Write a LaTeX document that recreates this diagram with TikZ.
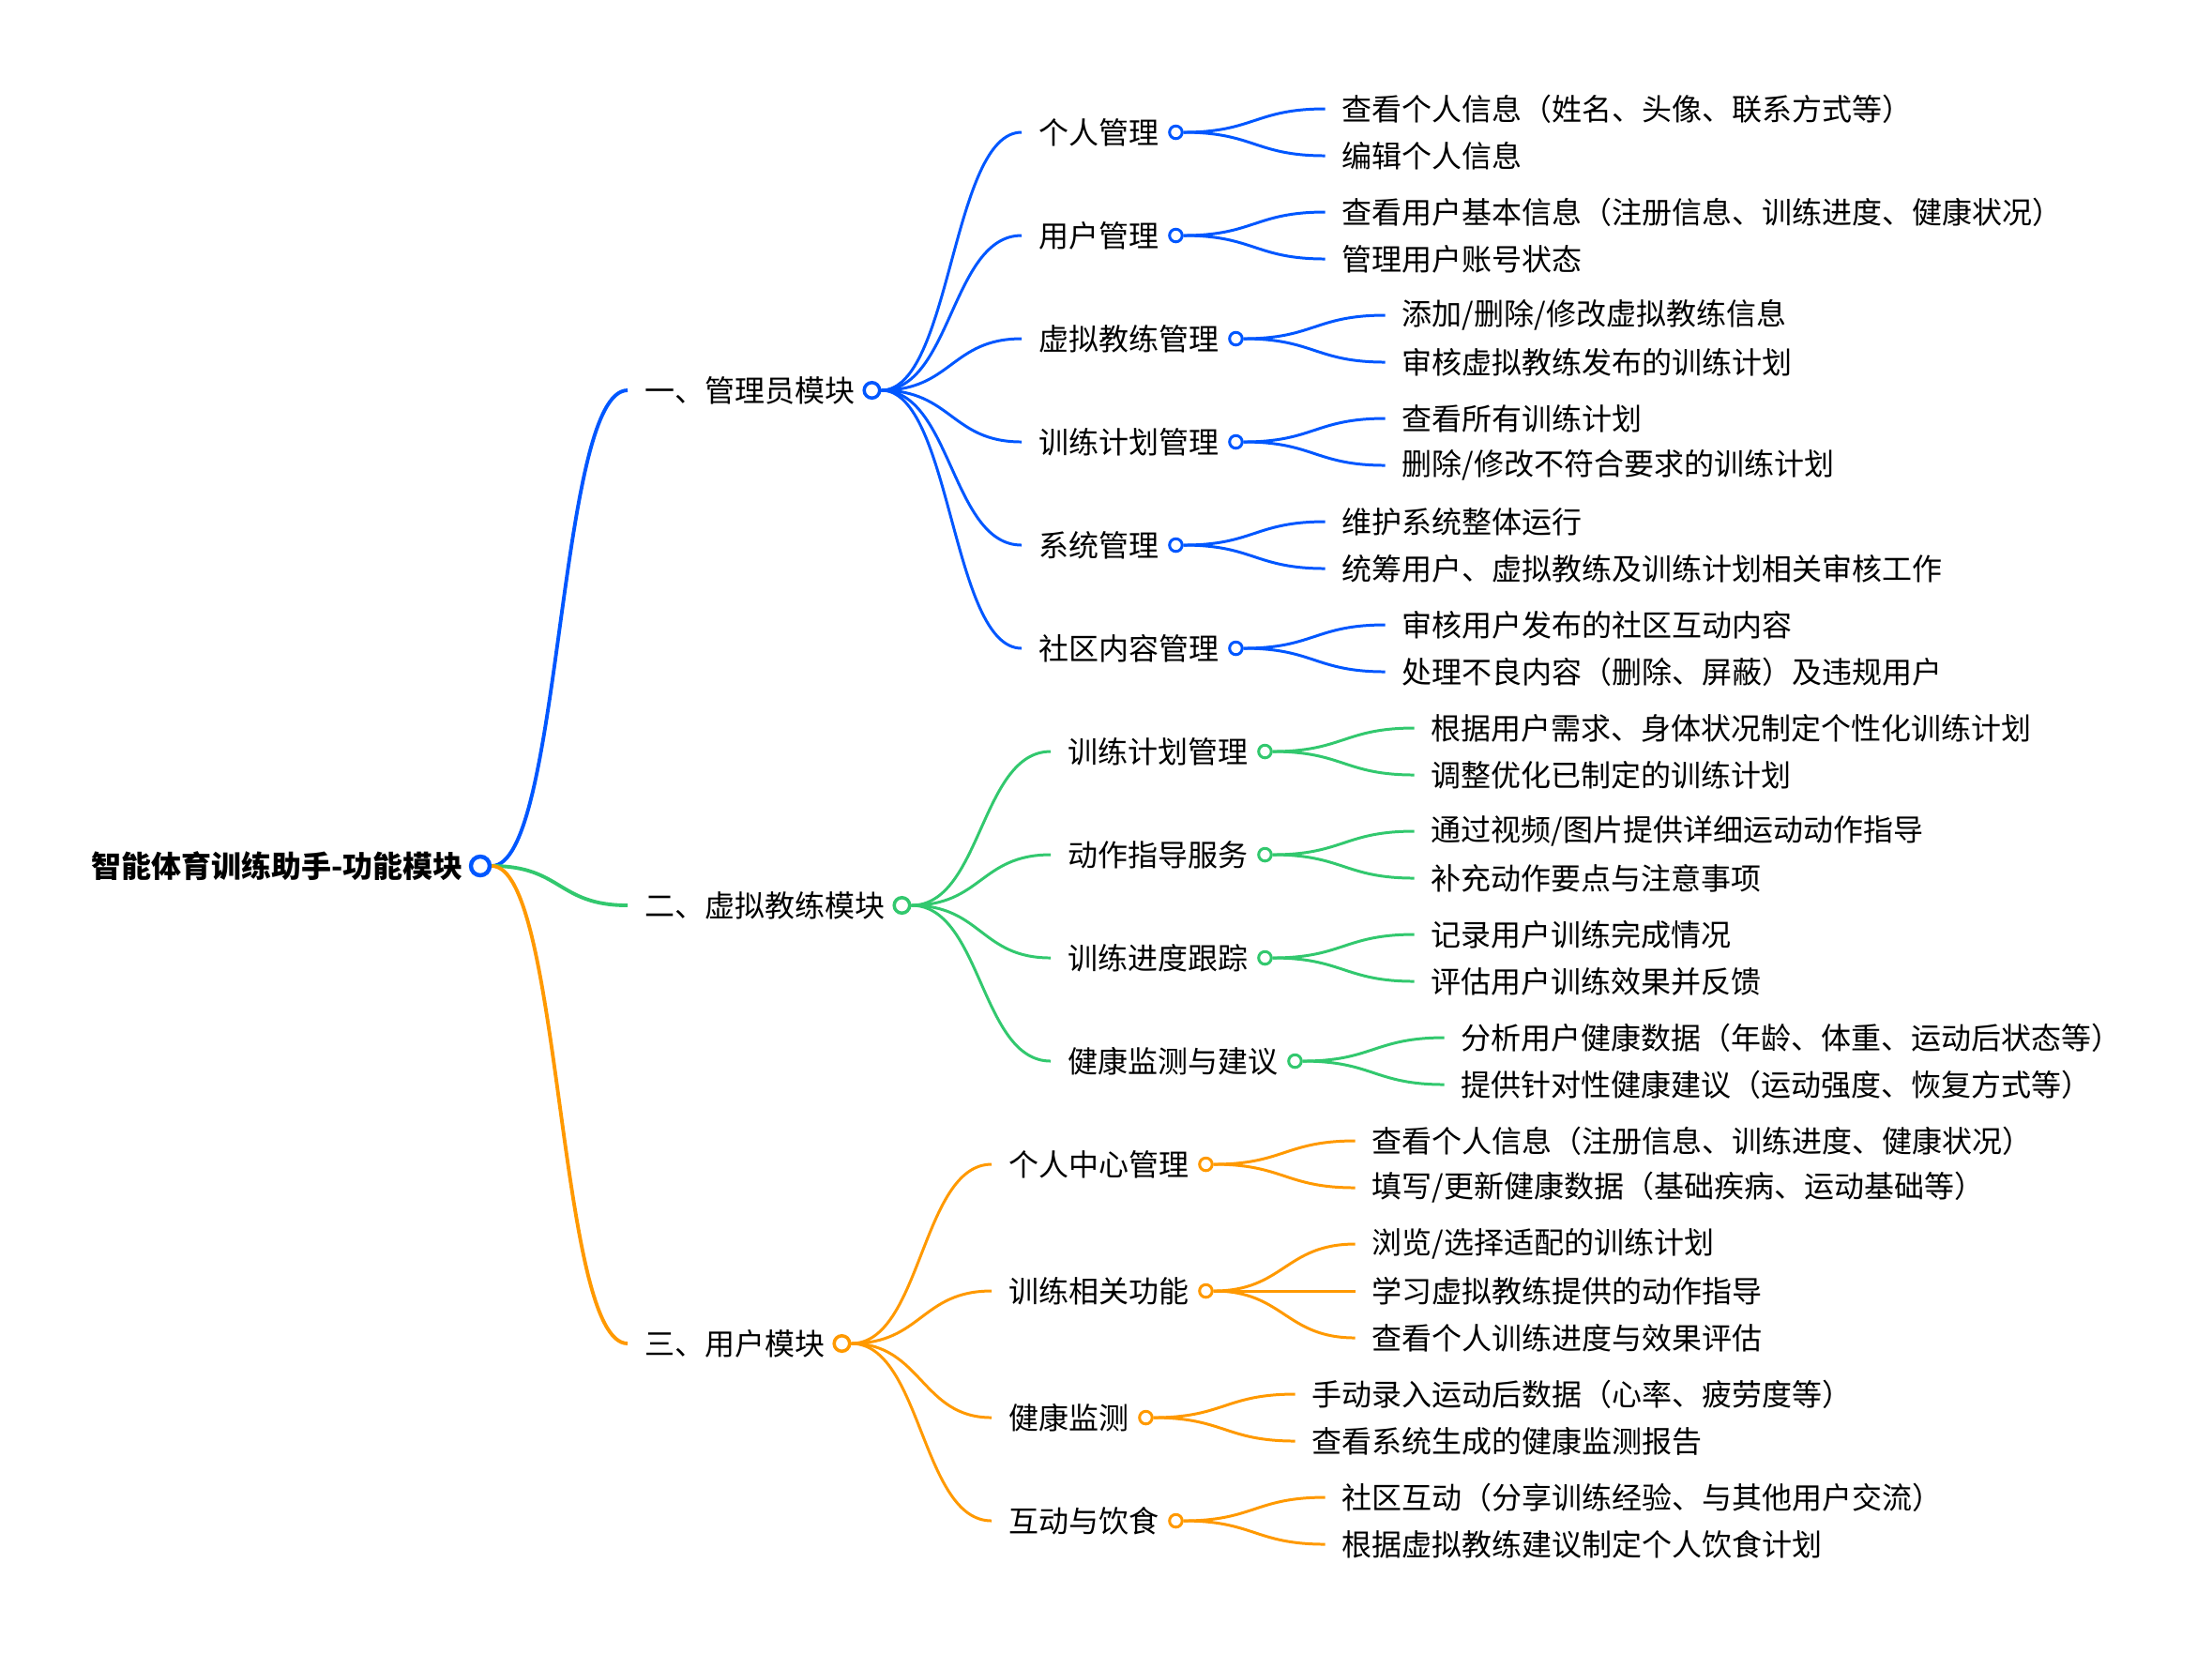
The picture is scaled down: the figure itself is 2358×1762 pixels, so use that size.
\documentclass[tikz,border=0pt]{standalone}
\usepackage{fontspec}
\setmainfont{Noto Sans CJK SC}
\usetikzlibrary{calc}
\definecolor{admblue}{RGB}{0,87,255}
\definecolor{coachgreen}{RGB}{50,200,110}
\definecolor{userorange}{RGB}{255,153,0}
\newcommand{\twig}[3]{% #1=colour #2=from knob #3=to text node
  \draw[link=#1] (#2.east) .. controls +(75,0) and +(-75,0) .. (#3.west);}

\begin{document}
\begin{tikzpicture}[
  x=0.01cm, y=-0.01cm,
  font=\fontsize{9.1pt}{10pt}\selectfont,
  txt/.style={anchor=west, inner xsep=0.175cm, inner ysep=1pt},
  knob/.style={circle, draw=#1, fill=white, line width=0.85pt, inner sep=0pt, minimum size=0.135cm},
  midknob/.style={knob=#1, line width=1pt, minimum size=0.165cm},
  rootknob/.style={knob=#1, line width=1.25pt, minimum size=0.2cm},
  link/.style={draw=#1, line width=0.85pt},
]
\useasboundingbox (0,0) rectangle (2358,1762);

% ---------- ROOT ----------
\node[txt, anchor=east, font=\bfseries\fontsize{9.1pt}{10pt}\selectfont] (root) at (512,923) {智能体育训练助手-功能模块};
\node[rootknob=admblue] (rooto) at (root.east) {};

% ---------- LEVEL 1 ----------
\node[txt] (adm) at (669,416) {一、管理员模块};
\node[midknob=admblue] (admo) at (adm.east) {};
\node[txt] (coach) at (669,965) {二、虚拟教练模块};
\node[midknob=coachgreen] (coacho) at (coach.east) {};
\node[txt] (user) at (669,1432) {三、用户模块};
\node[midknob=userorange] (usero) at (user.east) {};

% ---------- ADMIN MODULE ----------
\node[txt] (adm1) at (1089,141) {个人管理};
\node[txt] (adm2) at (1089,251) {用户管理};
\node[txt] (adm3) at (1089,361) {虚拟教练管理};
\node[txt] (adm4) at (1089,471) {训练计划管理};
\node[txt] (adm5) at (1089,581) {系统管理};
\node[txt] (adm6) at (1089,691) {社区内容管理};
\foreach \i in {1,...,6}{%
  \node[knob=admblue] (adm\i o) at (adm\i.east) {};}

\node[txt] (adm1a) at ($(adm1o.east)+(151,-25)$) {查看个人信息（姓名、头像、联系方式等）};
\node[txt] (adm1b) at ($(adm1o.east)+(151,25)$) {编辑个人信息};
\node[txt] (adm2a) at ($(adm2o.east)+(151,-25)$) {查看用户基本信息（注册信息、训练进度、健康状况）};
\node[txt] (adm2b) at ($(adm2o.east)+(151,25)$) {管理用户账号状态};
\node[txt] (adm3a) at ($(adm3o.east)+(151,-25)$) {添加/删除/修改虚拟教练信息};
\node[txt] (adm3b) at ($(adm3o.east)+(151,25)$) {审核虚拟教练发布的训练计划};
\node[txt] (adm4a) at ($(adm4o.east)+(151,-25)$) {查看所有训练计划};
\node[txt] (adm4b) at ($(adm4o.east)+(151,25)$) {删除/修改不符合要求的训练计划};
\node[txt] (adm5a) at ($(adm5o.east)+(151,-25)$) {维护系统整体运行};
\node[txt] (adm5b) at ($(adm5o.east)+(151,25)$) {统筹用户、虚拟教练及训练计划相关审核工作};
\node[txt] (adm6a) at ($(adm6o.east)+(151,-25)$) {审核用户发布的社区互动内容};
\node[txt] (adm6b) at ($(adm6o.east)+(151,25)$) {处理不良内容（删除、屏蔽）及违规用户};

% ---------- VIRTUAL COACH MODULE ----------
\node[txt] (coach1) at (1120,801) {训练计划管理};
\node[txt] (coach2) at (1120,911) {动作指导服务};
\node[txt] (coach3) at (1120,1021) {训练进度跟踪};
\node[txt] (coach4) at (1120,1131) {健康监测与建议};
\foreach \i in {1,...,4}{%
  \node[knob=coachgreen] (coach\i o) at (coach\i.east) {};}

\node[txt] (coach1a) at ($(coach1o.east)+(151,-25)$) {根据用户需求、身体状况制定个性化训练计划};
\node[txt] (coach1b) at ($(coach1o.east)+(151,25)$) {调整优化已制定的训练计划};
\node[txt] (coach2a) at ($(coach2o.east)+(151,-25)$) {通过视频/图片提供详细运动动作指导};
\node[txt] (coach2b) at ($(coach2o.east)+(151,25)$) {补充动作要点与注意事项};
\node[txt] (coach3a) at ($(coach3o.east)+(151,-25)$) {记录用户训练完成情况};
\node[txt] (coach3b) at ($(coach3o.east)+(151,25)$) {评估用户训练效果并反馈};
\node[txt] (coach4a) at ($(coach4o.east)+(151,-25)$) {分析用户健康数据（年龄、体重、运动后状态等）};
\node[txt] (coach4b) at ($(coach4o.east)+(151,25)$) {提供针对性健康建议（运动强度、恢复方式等）};

% ---------- USER MODULE ----------
\node[txt] (user1) at (1057,1241) {个人中心管理};
\node[txt] (user2) at (1057,1376) {训练相关功能};
\node[txt] (user3) at (1057,1511) {健康监测};
\node[txt] (user4) at (1057,1621) {互动与饮食};
\foreach \i in {1,...,4}{%
  \node[knob=userorange] (user\i o) at (user\i.east) {};}

\node[txt] (user1a) at ($(user1o.east)+(151,-25)$) {查看个人信息（注册信息、训练进度、健康状况）};
\node[txt] (user1b) at ($(user1o.east)+(151,25)$) {填写/更新健康数据（基础疾病、运动基础等）};
\node[txt] (user2a) at ($(user2o.east)+(151,-50)$) {浏览/选择适配的训练计划};
\node[txt] (user2b) at ($(user2o.east)+(151,0)$) {学习虚拟教练提供的动作指导};
\node[txt] (user2c) at ($(user2o.east)+(151,50)$) {查看个人训练进度与效果评估};
\node[txt] (user3a) at ($(user3o.east)+(151,-25)$) {手动录入运动后数据（心率、疲劳度等）};
\node[txt] (user3b) at ($(user3o.east)+(151,25)$) {查看系统生成的健康监测报告};
\node[txt] (user4a) at ($(user4o.east)+(151,-25)$) {社区互动（分享训练经验、与其他用户交流）};
\node[txt] (user4b) at ($(user4o.east)+(151,25)$) {根据虚拟教练建议制定个人饮食计划};

% ---------- LINKS ----------
\draw[link=admblue, line width=1.1pt] (rooto.east) .. controls +(75,0) and +(-75,0) .. (adm.west);
\draw[link=coachgreen, line width=1.1pt] (rooto.east) .. controls +(75,0) and +(-75,0) .. (coach.west);
\draw[link=userorange, line width=1.1pt] (rooto.east) .. controls +(75,0) and +(-75,0) .. (user.west);

\foreach \i in {1,...,6}{%
  \twig{admblue}{admo}{adm\i}
  \twig{admblue}{adm\i o}{adm\i a}
  \twig{admblue}{adm\i o}{adm\i b}}
\foreach \i in {1,...,4}{%
  \twig{coachgreen}{coacho}{coach\i}
  \twig{coachgreen}{coach\i o}{coach\i a}
  \twig{coachgreen}{coach\i o}{coach\i b}}
\foreach \i in {1,...,4}{%
  \twig{userorange}{usero}{user\i}
  \twig{userorange}{user\i o}{user\i a}
  \twig{userorange}{user\i o}{user\i b}}
\twig{userorange}{user2o}{user2c}

\end{tikzpicture}
\end{document}
